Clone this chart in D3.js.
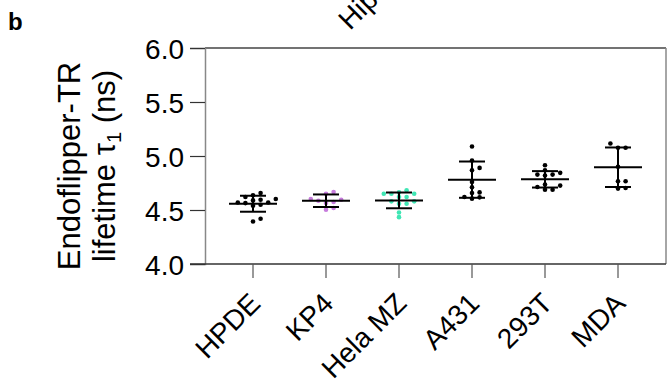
<!DOCTYPE html>
<html>
<head>
<meta charset="utf-8">
<script src="https://cdn.jsdelivr.net/npm/d3@7"></script>
<style>
  body { margin: 0; background: #fff; }
  svg { display: block; font-family: "Liberation Sans", Arial, sans-serif; }
</style>
</head>
<body>
<svg></svg>
<script>
// cell lines and lifetime values (ns)
let groups = ["HPDE", "KP4", "Hela MZ", "A431", "293T", "MDA"]
let dotColors = ["#000", "#c77cdd", "#3fe6b4", "#000", "#000", "#000"]

let hpde = [4.549, 4.589, 4.620, 4.658, 4.636, 4.602, 4.595, 4.570, 4.540, 4.564, 4.570, 4.394, 4.419]
let kp4 = [4.651, 4.667, 4.574, 4.564, 4.595, 4.602, 4.502, 4.518, 4.586]
let hela = [4.651, 4.651, 4.682, 4.663, 4.651, 4.580, 4.580, 4.620, 4.620, 4.558, 4.558, 4.477, 4.434]
let a431 = [5.088, 4.958, 4.868, 4.890, 4.760, 4.710, 4.658, 4.663, 4.605, 4.620, 4.617]
let t293 = [4.915, 4.828, 4.844, 4.868, 4.819, 4.828, 4.735, 4.726, 4.688, 4.688, 4.713]
let mda = [5.116, 5.076, 5.076, 4.900, 4.766, 4.766, 4.698, 4.704]

let means = [4.558, 4.586, 4.589, 4.781, 4.784, 4.896]
let sds = [0.074, 0.058, 0.073, 0.168, 0.076, 0.183]

let yTicks = [4.0, 4.5, 5.0, 5.5, 6.0]

let width = 667
let height = 392
let padLeft = 205
let padRight = 666
let padTop = 48
let padBottom = 264

let svg = d3.select("svg").attr("width", width).attr("height", height)

let xScale = d3.scaleBand().domain(groups).range([216.5, 654.5])
let yScale = d3.scaleLinear().domain([4, 6]).range([padBottom, padTop])

// panel letter and the cut-off label of the panel above
svg.append("text")
   .text("b")
   .attr("x", 8)
   .attr("y", 30)
   .style("font-size", "24px")
   .style("font-weight", "bold")

svg.append("text")
   .text("Hip")
   .attr("transform", "translate(350,31) rotate(-45)")
   .style("font-size", "28px")

// box
svg.append("line").attr("x1", padLeft).attr("x2", padRight).attr("y1", padTop).attr("y2", padTop)
   .attr("stroke", "#444").attr("stroke-width", 1.5)
svg.append("line").attr("x1", padRight).attr("x2", padRight).attr("y1", padTop).attr("y2", padBottom)
   .attr("stroke", "#888").attr("stroke-width", 1.5)

// axes
let yAxis = d3.axisLeft(yScale).tickValues(yTicks).tickFormat(d3.format(".1f")).tickSize(15).tickPadding(6)
let xAxis = d3.axisBottom(xScale).tickSize(14).tickSizeOuter(0)

let gy = svg.append("g").attr("transform", "translate(" + padLeft + ",0)").call(yAxis)
gy.select(".domain").attr("stroke", "#888").attr("stroke-width", 1.5)
gy.selectAll(".tick line").attr("stroke", "#333").attr("stroke-width", 1.2)
gy.selectAll(".tick text").style("font-size", "28px").style("fill", "#000").attr("dy", "0.36em")

let gx = svg.append("g").attr("transform", "translate(0," + padBottom + ")").call(xAxis)
gx.select(".domain").attr("d", "M" + (padLeft - 15) + ",0H" + padRight).attr("stroke", "#333").attr("stroke-width", 1.5)
gx.selectAll(".tick line").attr("stroke", "#555").attr("stroke-width", 1.2)
gx.selectAll(".tick text")
  .style("font-size", "28px")
  .style("fill", "#000")
  .attr("text-anchor", "end")
  .attr("dy", null)
  .attr("y", 0)
  .attr("transform", "translate(9,41) rotate(-45)")

// y title
let title = svg.append("text")
   .attr("transform", "translate(80,166) rotate(-90)")
   .attr("text-anchor", "middle")
   .style("font-size", "31px")
title.append("tspan").attr("x", 0).attr("y", 0).text("Endoflipper-TR")
let line2 = title.append("tspan").attr("x", 0).attr("y", 35)
line2.append("tspan").text("lifetime \u03c4")
line2.append("tspan").text("1").style("font-size", "20px").attr("dy", 6)
line2.append("tspan").text(" (ns)").attr("dy", -6)

// simple swarm layout: each dot takes the nearest free column slot
let swarm = (vals) => {
  let step = 7.6
  let placed = []
  vals.slice().sort((a, b) => a - b).forEach((v) => {
    let y = yScale(v)
    for (let k = 0; k < 20; k++) {
      let off = k === 0 ? 0 : (k % 2 ? 1 : -1) * Math.ceil(k / 2) * step
      let clash = placed.some((p) => Math.abs(p.x - off) < 5 && Math.abs(p.y - y) < 4.5)
      if (!clash) { placed.push({x: off, y: y}); break }
    }
  })
  return placed
}

let allValues = [hpde, kp4, hela, a431, t293, mda]

allValues.forEach((vals, i) => {
  let cx = xScale(groups[i]) + xScale.bandwidth() / 2
  svg.append("g")
     .selectAll("circle")
     .data(swarm(vals))
     .enter()
     .append("circle")
     .attr("cx", (d) => cx + d.x)
     .attr("cy", (d) => d.y)
     .attr("r", 2.3)
     .attr("fill", dotColors[i])
})

// mean and SD bars
groups.forEach((g, i) => {
  let cx = xScale(g) + xScale.bandwidth() / 2
  let hi = yScale(means[i] + sds[i])
  let lo = yScale(means[i] - sds[i])
  let bars = svg.append("g").attr("stroke", "#000").attr("stroke-width", 2)
  bars.append("line").attr("x1", cx).attr("x2", cx).attr("y1", hi).attr("y2", lo)
  bars.append("line").attr("x1", cx - 13).attr("x2", cx + 13).attr("y1", hi).attr("y2", hi)
  bars.append("line").attr("x1", cx - 13).attr("x2", cx + 13).attr("y1", lo).attr("y2", lo)
  bars.append("line").attr("x1", cx - 24).attr("x2", cx + 24)
      .attr("y1", yScale(means[i])).attr("y2", yScale(means[i]))
})
</script>
</body>
</html>
